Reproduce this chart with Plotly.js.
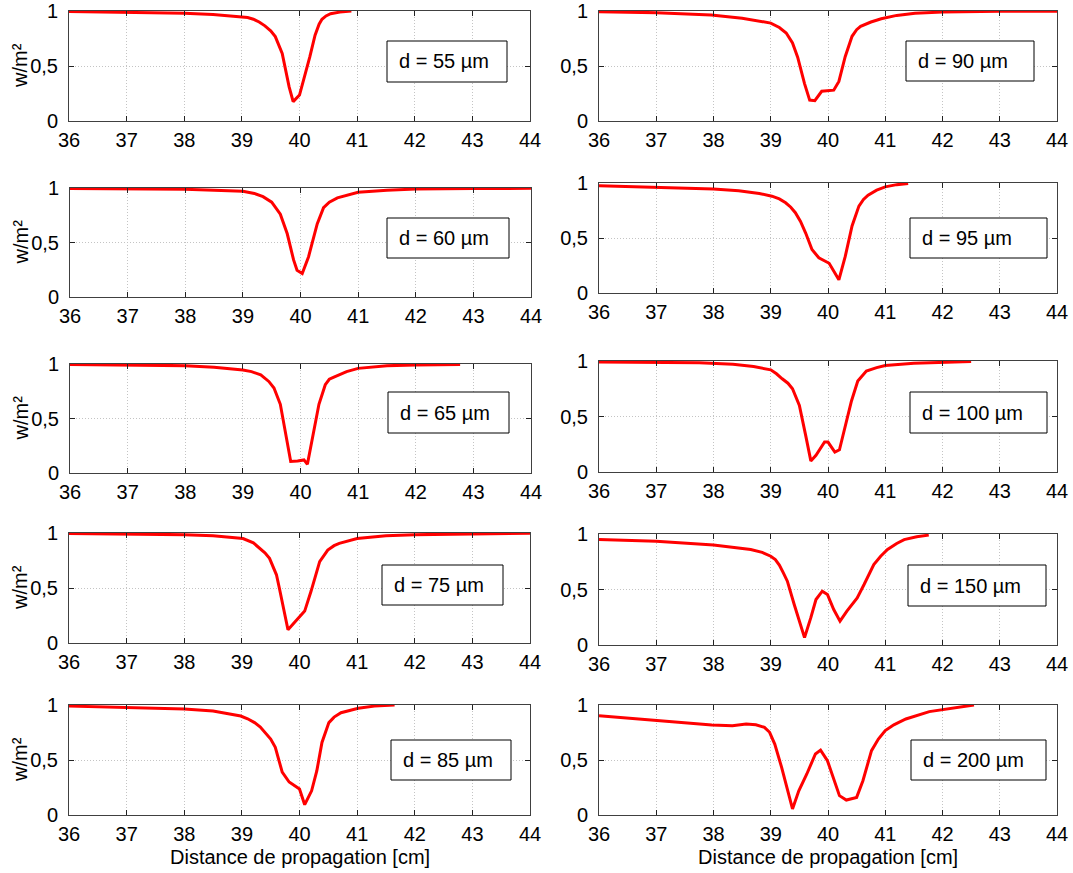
<!DOCTYPE html>
<html>
<head>
<meta charset="utf-8">
<script src="https://cdn.plot.ly/plotly-3.0.1.min.js"></script>
<style>html,body{margin:0;padding:0;background:#fff;}#chart{width:1073px;height:873px;}</style>
</head>
<body>
<div id="chart"></div>
<script>
// ---- data ----
const labels = ['d = 55 µm','d = 90 µm','d = 60 µm','d = 95 µm','d = 65 µm','d = 100 µm','d = 75 µm','d = 150 µm','d = 85 µm','d = 200 µm'];

const x55 = [36,37,38,38.5,39,39.1,39.2,39.3,39.4,39.5,39.58,39.7,39.82,39.89,40,40.09,40.18,40.27,40.34,40.39,40.46,40.54,40.7,40.9];
const y55 = [0.995,0.99,0.98,0.968,0.948,0.94,0.925,0.9,0.865,0.82,0.767,0.615,0.31,0.176,0.236,0.40,0.585,0.78,0.88,0.925,0.955,0.975,0.99,1.0];

const x60 = [36,37,38,38.5,39,39.2,39.35,39.5,39.65,39.77,39.88,39.94,40.03,40.14,40.29,40.4,40.5,40.64,41,41.5,42,43,44];
const y60 = [0.995,0.993,0.988,0.98,0.97,0.95,0.92,0.87,0.76,0.58,0.34,0.245,0.215,0.37,0.67,0.82,0.87,0.91,0.96,0.98,0.99,0.995,0.997];

const x65 = [36,37,38,38.5,39,39.15,39.31,39.45,39.54,39.65,39.75,39.83,39.95,40.06,40.12,40.23,40.32,40.43,40.5,40.58,40.8,41,41.5,42,42.77];
const y65 = [0.995,0.99,0.985,0.97,0.945,0.93,0.9,0.84,0.78,0.63,0.35,0.106,0.11,0.12,0.08,0.385,0.63,0.81,0.86,0.88,0.93,0.96,0.985,0.99,0.995];

const x75 = [36,37,38,38.5,39.02,39.2,39.31,39.4,39.48,39.6,39.65,39.8,40.09,40.2,40.35,40.49,40.6,40.69,41,41.5,42,43,44];
const y75 = [0.995,0.993,0.985,0.975,0.95,0.91,0.86,0.82,0.77,0.62,0.5,0.12,0.29,0.47,0.74,0.845,0.885,0.906,0.95,0.975,0.985,0.993,0.997];

const x85 = [36,37,38,38.5,38.98,39.1,39.22,39.32,39.4,39.5,39.58,39.7,39.82,40,40.09,40.21,40.3,40.39,40.51,40.6,40.72,41.02,41.3,41.65];
const y85 = [0.99,0.98,0.964,0.945,0.9,0.875,0.84,0.80,0.75,0.69,0.615,0.39,0.30,0.236,0.094,0.22,0.40,0.66,0.84,0.89,0.93,0.97,0.99,1.0];

const x90 = [36,37,37.96,38.5,39,39.15,39.27,39.38,39.47,39.59,39.68,39.77,39.89,40.1,40.19,40.3,40.42,40.5,40.57,40.75,40.93,41.2,41.52,42,43,44];
const y90 = [0.994,0.985,0.964,0.935,0.89,0.85,0.80,0.71,0.58,0.34,0.19,0.185,0.27,0.28,0.36,0.585,0.77,0.83,0.86,0.9,0.93,0.96,0.98,0.99,0.997,0.998];

const x95 = [36,36.7,38,38.44,38.8,39.02,39.15,39.26,39.35,39.43,39.52,39.61,39.72,39.84,40.02,40.19,40.3,40.42,40.54,40.62,40.7,40.85,41,41.2,41.4];
const y95 = [0.975,0.965,0.945,0.93,0.905,0.88,0.855,0.82,0.78,0.73,0.65,0.545,0.395,0.32,0.27,0.12,0.33,0.61,0.79,0.85,0.89,0.935,0.965,0.985,0.995];

const x100 = [36,37,37.75,38.34,38.7,39,39.1,39.2,39.3,39.38,39.5,39.61,39.7,39.79,39.94,40,40.12,40.2,40.29,40.41,40.52,40.6,40.67,40.85,41,41.5,42.06,42.5];
const y100 = [0.99,0.988,0.985,0.97,0.95,0.92,0.885,0.84,0.8,0.75,0.6,0.33,0.1,0.15,0.27,0.27,0.18,0.2,0.4,0.64,0.82,0.87,0.91,0.94,0.96,0.98,0.99,0.995];

const x150 = [36,37,38,38.65,38.85,39,39.08,39.15,39.22,39.29,39.41,39.52,39.59,39.7,39.79,39.9,39.99,40.1,40.21,40.33,40.51,40.63,40.8,40.92,41.04,41.2,41.33,41.55,41.76];
const y150 = [0.95,0.934,0.90,0.86,0.835,0.80,0.77,0.72,0.65,0.575,0.365,0.186,0.066,0.246,0.41,0.485,0.455,0.32,0.215,0.305,0.425,0.545,0.725,0.8,0.86,0.915,0.95,0.975,0.99];

const x200 = [36,37,37.97,38.33,38.57,38.74,38.89,38.98,39.07,39.19,39.31,39.38,39.49,39.63,39.78,39.87,39.99,40.11,40.2,40.32,40.5,40.61,40.76,40.88,41,41.15,41.36,41.77,42.25,42.55];
const y200 = [0.903,0.857,0.818,0.812,0.827,0.82,0.797,0.752,0.645,0.433,0.19,0.055,0.22,0.373,0.555,0.59,0.494,0.312,0.176,0.136,0.16,0.312,0.585,0.69,0.767,0.82,0.873,0.94,0.98,1.0];

const xTicks = [36,37,38,39,40,41,42,43,44];
const yTickVals = [0,0.5,1];
const yTickText = ['0','0,5','1'];
const yTitle = 'w/m²';
const xTitle = 'Distance de propagation [cm]';

// order: row by row, left then right
const series = [[x55,y55],[x90,y90],[x60,y60],[x95,y95],[x65,y65],[x100,y100],[x75,y75],[x150,y150],[x85,y85],[x200,y200]];

// ---- layout geometry (pixels) ----
const W = 1073, H = 873;
const boxes = [ // [left, right, top, bottom] of each plot area
  [69,530,11,121],[599,1057,11,121],
  [70,531,188,297],[599,1057,183,293],
  [70,531,364,473],[599,1057,361,472],
  [69,530,533,643],[599,1057,534,645],
  [69,530,705,815],[599,1057,705,815]
];
const legendBoxes = [ // [left, right, top, bottom]
  [387,507,41,82],[906,1034,41,81],
  [387,509,218,258],[910,1047,218,258],
  [388,509,392,433],[910,1047,392,433],
  [382,503,565,605],[908,1046,565,606],
  [391,511,740,780],[911,1046,740,780]
];
const px = v => v / W;
const py = v => 1 - v / H;
const FONT = 'Arial, "Liberation Sans", sans-serif';

const data = [];
const layout = {
  width: W, height: H,
  margin: {l:0, r:0, t:0, b:0},
  paper_bgcolor: '#fff', plot_bgcolor: '#fff',
  showlegend: false,
  font: {family: FONT, color: '#000'},
  annotations: [], shapes: []
};

series.forEach((s, i) => {
  const k = i + 1;
  const suf = (k === 1 ? '' : String(k));
  data.push({x: s[0], y: s[1], xaxis: 'x' + suf, yaxis: 'y' + suf, type: 'scatter', mode: 'lines',
             line: {color: '#ff0000', width: 3}, hoverinfo: 'skip'});
  const b = boxes[i];
  const common = {showline: true, linecolor: '#404040', linewidth: 1, mirror: 'ticks',
    ticks: 'inside', ticklen: 5, tickcolor: '#222', tickwidth: 1,
    showgrid: true, gridcolor: '#c4c4c4', griddash: '1px,2px', gridwidth: 1, zeroline: false,
    tickfont: {size: 20, family: FONT, color: '#000'}};
  layout['xaxis' + suf] = Object.assign({}, common, {
    domain: [px(b[0]), px(b[1])], anchor: 'y' + suf, range: [36,44],
    tickvals: xTicks, ticklabelstandoff: 1
  });
  layout['yaxis' + suf] = Object.assign({}, common, {
    domain: [py(b[3]), py(b[2])], anchor: 'x' + suf, range: [0,1],
    tickvals: yTickVals, ticktext: yTickText, ticklabelstandoff: 6
  });
  const lb = legendBoxes[i];
  layout.shapes.push({type: 'rect', xref: 'paper', yref: 'paper',
    x0: px(lb[0]), x1: px(lb[1]), y0: py(lb[3]), y1: py(lb[2]),
    line: {color: '#000', width: 1}, fillcolor: '#fff', layer: 'above'});
  layout.annotations.push({xref: 'paper', yref: 'paper', x: px(lb[0] + 10), y: py((lb[2] + lb[3]) / 2),
    xanchor: 'left', yanchor: 'middle', showarrow: false, text: labels[i],
    font: {size: 20, color: '#000', family: FONT}});
  if (i % 2 === 0) {
    layout.annotations.push({xref: 'paper', yref: 'paper', x: px(20), y: py((b[2] + b[3]) / 2),
      xanchor: 'center', yanchor: 'middle', showarrow: false, textangle: -90, text: yTitle,
      font: {size: 20, color: '#000', family: FONT}});
  }
  if (i >= 8) {
    layout.annotations.push({xref: 'paper', yref: 'paper', x: px((b[0] + b[1]) / 2), y: py(857),
      xanchor: 'center', yanchor: 'middle', showarrow: false, text: xTitle,
      font: {size: 20, color: '#000', family: FONT}});
  }
});

Plotly.newPlot('chart', data, layout, {displayModeBar: false, staticPlot: true});
</script>
</body>
</html>
